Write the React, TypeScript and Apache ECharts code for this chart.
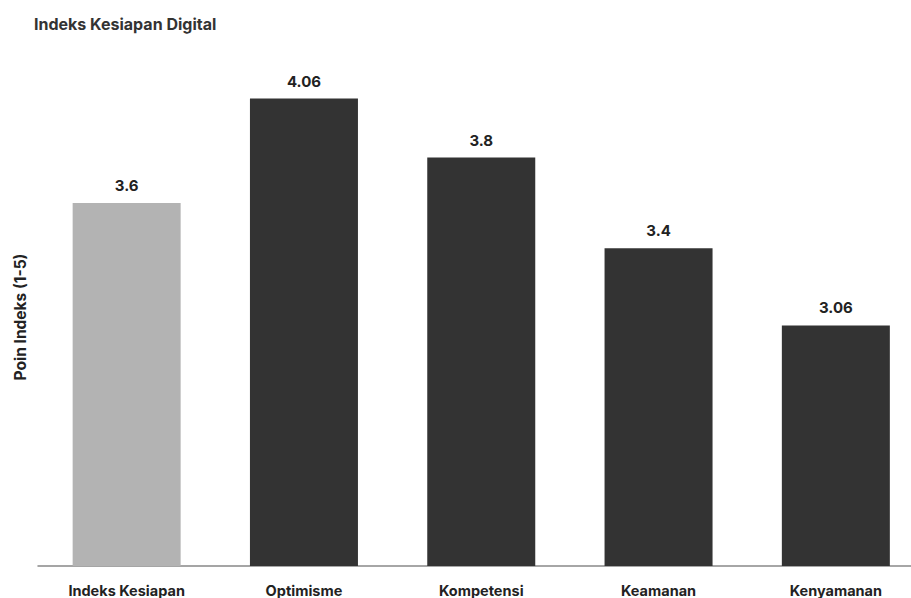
import React, { useEffect, useRef } from "react";
import * as echarts from "echarts";

const categories = ["Indeks Kesiapan", "Optimisme", "Kompetensi", "Keamanan", "Kenyamanan"];
const values = [3.6, 4.06, 3.8, 3.4, 3.06];
const barColors = ["#b3b3b3", "#333333", "#333333", "#333333", "#333333"];

export default function App() {
  const ref = useRef<HTMLDivElement>(null);
  useEffect(() => {
    if (!ref.current) return;
    const chart = echarts.init(ref.current, undefined, { renderer: "svg" });
    const font = "Inter, 'Noto Sans', sans-serif";
    chart.setOption({
      animation: false,
      backgroundColor: "#ffffff",
      title: {
        text: "Indeks Kesiapan Digital",
        left: 29,
        top: 11,
        textStyle: { fontFamily: font, fontSize: 16, fontWeight: 700, color: "#333333" },
      },
      graphic: [
        {
          type: "text",
          x: 20,
          y: 317,
          rotation: Math.PI / 2,
          style: {
            text: "Poin Indeks (1-5)",
            fontFamily: font,
            fontSize: 15.5,
            fontWeight: 700,
            fill: "#222222",
            align: "center",
            verticalAlign: "middle",
          },
        },
      ],
      grid: { left: 38, top: 94, width: 886.5, height: 472 },
      xAxis: {
        type: "category",
        data: categories,
        axisLine: { show: true, lineStyle: { color: "#888888", width: 1.5 } },
        axisTick: { show: false },
        axisLabel: {
          margin: 17,
          fontFamily: font,
          fontSize: 14.5,
          fontWeight: 700,
          color: "#222222",
        },
      },
      yAxis: {
        type: "value",
        min: 2,
        max: 4.08,
        axisLine: { show: false },
        axisTick: { show: false },
        axisLabel: { show: false },
        splitLine: { show: false },
      },
      series: [
        {
          type: "bar",
          barWidth: 108,
          data: values.map((v, i) => ({ value: v, itemStyle: { color: barColors[i] } })),
          label: {
            show: true,
            position: "top",
            distance: 10,
            fontFamily: font,
            fontSize: 15,
            fontWeight: 700,
            color: "#222222",
          },
        },
      ],
    });
    return () => chart.dispose();
  }, []);
  return (
    <div
      style={{
        position: "fixed",
        left: 0,
        top: 0,
        width: 911,
        height: 598,
        overflow: "hidden",
        background: "#fff",
      }}
    >
      <div ref={ref} style={{ width: 930, height: 598 }} />
    </div>
  );
}
